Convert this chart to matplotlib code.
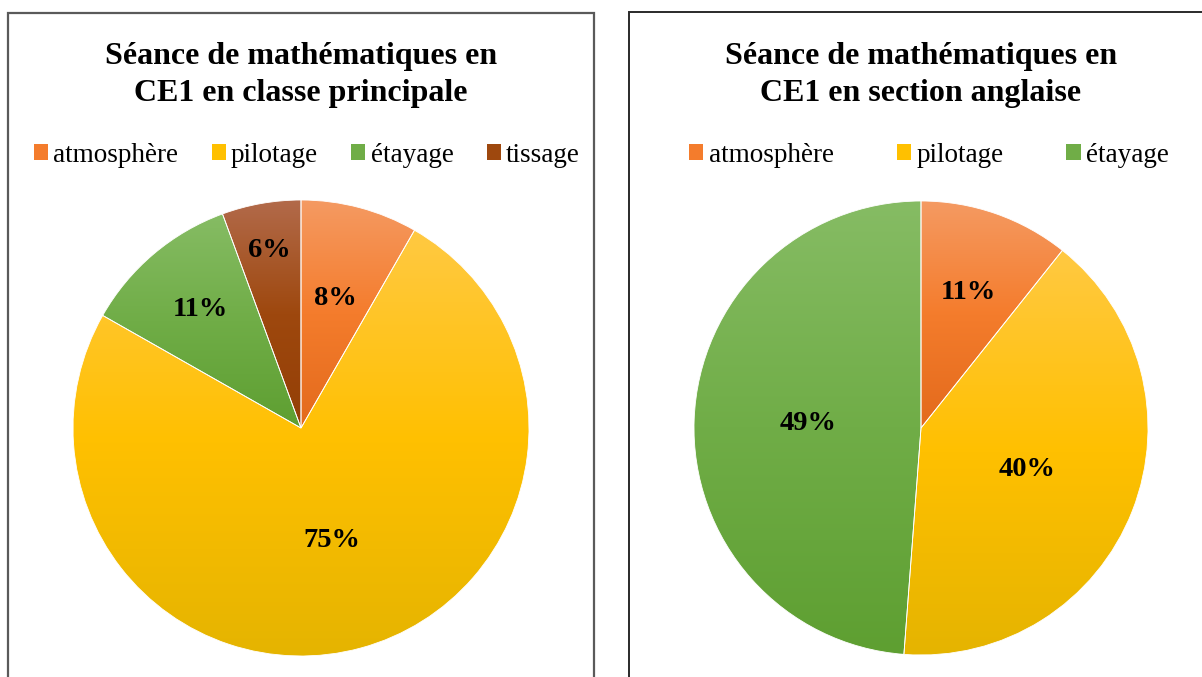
import matplotlib.pyplot as plt
import numpy as np
from matplotlib.patches import Rectangle
from matplotlib.colors import LinearSegmentedColormap

# data
categories_left = ['atmosphère', 'pilotage', 'étayage', 'tissage']
values_left = [8.3, 75.0, 11.2, 5.6]
categories_right = ['atmosphère', 'pilotage', 'étayage']
values_right = [10.7, 40.5, 48.8]

title_left = 'Séance de mathématiques en\nCE1 en classe principale'
title_right = 'Séance de mathématiques en\nCE1 en section anglaise'

# gradient stops (top, middle, bottom) per category
grad = {
    'atmosphère': ['#F59A62', '#F47C2C', '#E36A1C'],
    'pilotage': ['#FFC942', '#FFC000', '#E5B400'],
    'étayage': ['#86BC64', '#70AD47', '#5E9F31'],
    'tissage': ['#B26A4A', '#9E480E', '#943F06'],
}
base = {k: v[1] for k, v in grad.items()}

# label distances (fraction of radius), one per wedge
dist_left = [0.59, 0.51, 0.68, 0.79]
dist_right = [0.63, 0.50, 0.50]

W, H = 1202, 677
fig = plt.figure(figsize=(W / 100, H / 100), dpi=100)

serif = ['Liberation Serif', 'DejaVu Serif']


def px(x0, y0, x1, y1):
    # pixel box (top-down) -> figure fraction
    return [x0 / W, 1 - y1 / H, (x1 - x0) / W, (y1 - y0) / H]


# panel borders
fig.patches.append(Rectangle((8 / W, -0.1), (594 - 8) / W, 1.1 - 13 / H,
                             transform=fig.transFigure, fill=False,
                             edgecolor='#5a5a5a', lw=1.6))
fig.patches.append(Rectangle((629 / W, -0.1), 1.0, 1.1 - 12 / H,
                             transform=fig.transFigure, fill=False,
                             edgecolor='#2a2a2a', lw=1.4))


def draw_pie(box, cats, vals, dists):
    ax = fig.add_axes(px(*box))
    wedges, _ = ax.pie(vals, startangle=90, counterclock=False, radius=1,
                       wedgeprops=dict(facecolor='none', edgecolor='white', lw=0.6))
    ax.set_aspect('equal')
    ax.axis('off')
    total = sum(vals)
    for w, c, v, d in zip(wedges, cats, vals, dists):
        bb = w.get_path().get_extents(w.get_patch_transform())
        cmap = LinearSegmentedColormap.from_list(c, grad[c][::-1])
        img = np.linspace(0, 1, 256).reshape(-1, 1)
        im = ax.imshow(img, cmap=cmap, origin='lower', aspect='auto',
                       extent=[bb.x0, bb.x1, bb.y0, bb.y1], zorder=1)
        im.set_clip_path(w)
        w.set_zorder(2)
        ang = np.deg2rad((w.theta1 + w.theta2) / 2)
        ax.text(d * np.cos(ang), d * np.sin(ang), '%.0f%%' % (v / total * 100),
                ha='center', va='center', fontsize=20.5, fontweight='bold',
                family=serif, zorder=3)
    ax.set_xlim(-1, 1)
    ax.set_ylim(-1, 1)
    return ax


draw_pie((73, 200, 529, 656), categories_left, values_left, dist_left)
draw_pie((694, 201, 1148, 655), categories_right, values_right, dist_right)

fig.text(301 / W, 1 - 75 / H, title_left, ha='center', va='center',
         fontsize=23, fontweight='bold', family=serif, linespacing=1.33)
fig.text(921 / W, 1 - 75 / H, title_right, ha='center', va='center',
         fontsize=23, fontweight='bold', family=serif, linespacing=1.33)


def legend(cats, x, spacing):
    handles = [Rectangle((0, 0), 1, 1, facecolor=base[c], edgecolor='none') for c in cats]
    fig.legend(handles, cats, loc='center', bbox_to_anchor=(x / W, 1 - 155 / H),
               ncol=len(cats), frameon=False, handlelength=0.52, handleheight=0.52,
               handletextpad=0.2, columnspacing=spacing, borderpad=0,
               prop={'family': serif, 'size': 19.5})


legend(categories_left, 307, 1.22)
legend(categories_right, 929, 2.33)

fig.savefig('out.png', dpi=100)
